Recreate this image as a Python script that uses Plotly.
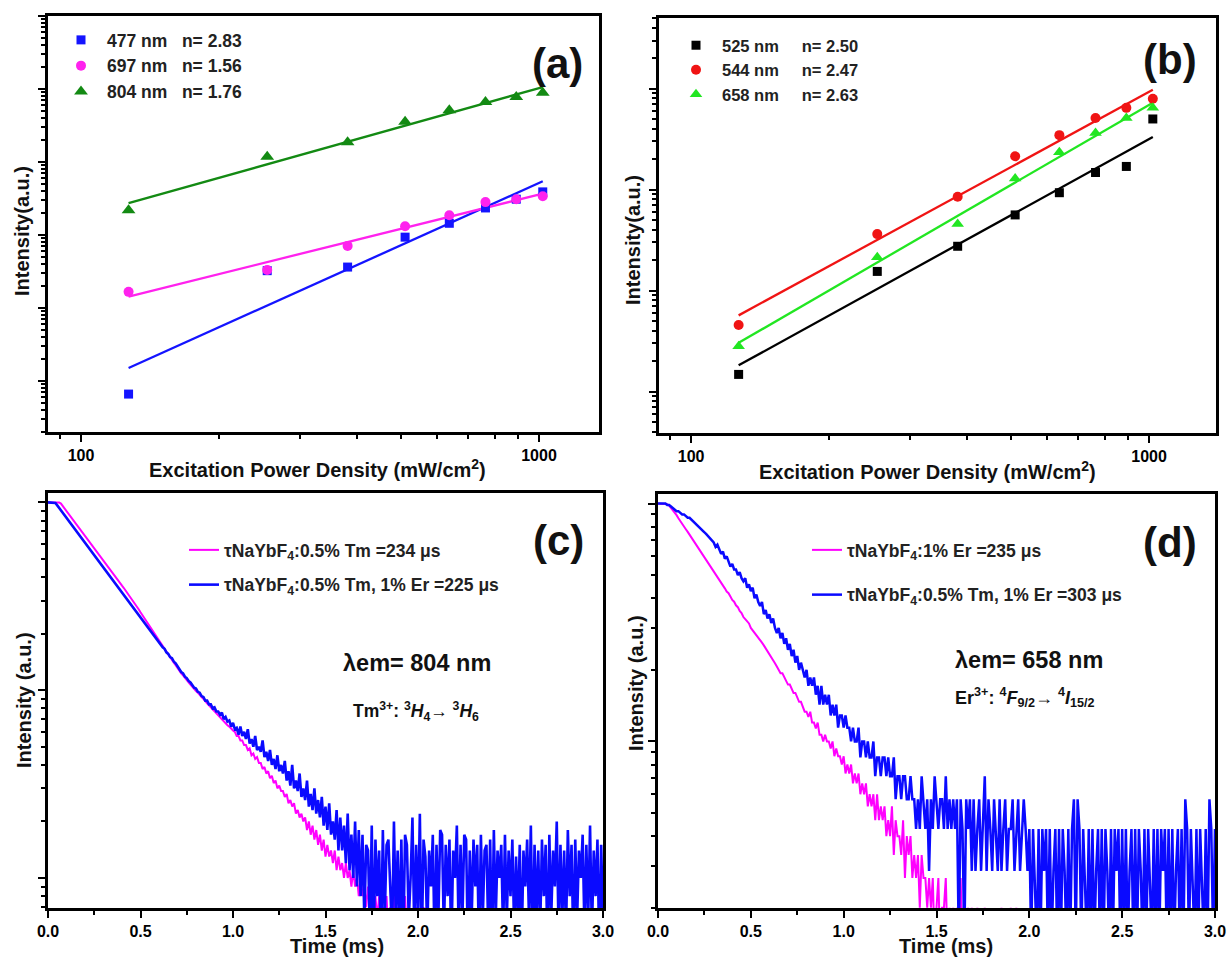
import numpy as np
import plotly.graph_objects as go

W, H = 1229, 958

# ---------------- data: (a) Tm emissions vs power ----------------
power = [127, 255, 382, 510, 637, 764, 892, 1019]  # mW/cm2

a_477 = [6.6, 324, 363, 933, 1445, 2344, 3090, 3890]
a_697 = [166, 331, 708, 1318, 1862, 2818, 3090, 3388]
a_804 = [2188, 11750, 18620, 35480, 51290, 66070, 77620, 89130]
a_slopes = [2.83, 1.56, 1.76]
a_labels = ["477 nm\u00a0\u00a0 n= 2.83", "697 nm\u00a0\u00a0 n= 1.56", "804 nm\u00a0\u00a0 n= 1.76"]

# ---------------- data: (b) Er emissions vs power ----------------
b_525 = [14.8, 155, 275, 562, 933, 1479, 1698, 5012]
b_544 = [45.7, 363, 851, 2138, 3467, 5129, 6457, 7943]
b_658 = [28.2, 214, 457, 1288, 2344, 3631, 5129, 6457]
b_slopes = [2.50, 2.47, 2.63]
b_labels = ["525 nm\u00a0\u00a0\u00a0\u00a0 n= 2.50", "544 nm\u00a0\u00a0\u00a0\u00a0 n= 2.47",
            "658 nm\u00a0\u00a0\u00a0\u00a0 n= 2.63"]

# ---------------- data: decay curves (counts, 0.01 ms channels) ----------------
time_step_ms = 0.01

# (c) 804 nm, peak = 1000 counts
c_peak = 1000
c_tm = [
    1000, 1000, 1000, 1000, 1000, 1000, 999, 985, 955, 927,
    899, 872, 846, 820, 796, 772, 749, 726, 704, 683,
    663, 643, 624, 605, 587, 569, 552, 536, 520, 504,
    489, 474, 460, 446, 433, 420, 407, 395, 383, 372,
    360, 350, 339, 329, 319, 310, 299, 289, 279, 270,
    260, 251, 243, 234, 226, 219, 211, 204, 197, 190,
    184, 177, 171, 165, 160, 154, 149, 145, 140, 136,
    131, 127, 123, 120, 116, 113, 110, 107, 104, 102,
    99, 97, 94, 92, 90, 87, 85, 83, 81, 79,
    77, 75, 73, 72, 70, 68, 67, 65, 64, 62,
    61, 60, 57, 57, 54, 54, 51, 51, 48, 49,
    45, 46, 43, 44, 41, 41, 38, 39, 36, 37,
    34, 35, 32, 33, 30, 31, 29, 29, 27, 28,
    25, 26, 24, 25, 22, 23, 21, 22, 20, 21,
    18, 20, 17, 19, 16, 18, 15, 17, 14, 16,
    13, 15, 13, 14, 12, 14, 11, 13, 11, 12,
    10, 12, 10, 11, 9, 11, 9, 10, 8, 10,
    8, 9, 7, 9, 7, 8, 6, 8, 6, 8,
    5, 7, 6, 8, 5, 7, 5, 8, 6, 7,
    5, 6, 4, 8, 5, 7, 4, 6, 5, 7,
    4, 6, 5, 7, 4, 6, 3, 4, 3, 5,
    3, 4, 2, 5, 3, 4, 3, 2, 4, 3,
    4, 2, 3, 5, 3, 2, 4, 3, 2, 4,
    3, 4, 2, 3, 5, 3, 2, 4, 3, 3,
    2, 4, 3, 2, 4, 3, 5, 2, 3, 4,
    3, 2, 4, 3, 2, 3, 4, 2, 5, 3,
    4, 3, 2, 4, 3, 2, 3, 4, 3, 2,
    3, 5, 2, 3, 4, 2, 3, 3, 4, 2,
    4, 2, 3, 4, 2, 5, 3, 2, 3, 4,
    2, 3, 4, 3, 2, 4, 3, 2, 3, 3,
    4,
]
c_tmer = [
    1000, 1000, 999, 997, 993, 964, 935, 907, 880, 853,
    828, 803, 779, 755, 733, 711, 689, 669, 649, 629,
    610, 592, 574, 557, 540, 524, 508, 493, 478, 464,
    450, 436, 423, 411, 398, 386, 375, 363, 352, 342,
    332, 322, 312, 303, 294, 285, 276, 268, 260, 252,
    245, 238, 229, 224, 216, 211, 203, 199, 191, 187,
    179, 176, 169, 166, 159, 156, 150, 148, 142, 139,
    134, 131, 125, 123, 118, 116, 112, 110, 107, 103,
    102, 98, 97, 93, 92, 88, 88, 84, 84, 80,
    81, 77, 77, 74, 76, 70, 72, 68, 69, 64,
    67, 62, 63, 58, 64, 57, 60, 55, 62, 52,
    55, 50, 57, 48, 50, 47, 54, 44, 47, 42,
    48, 40, 43, 38, 45, 37, 40, 36, 42, 33,
    37, 31, 40, 30, 33, 29, 36, 27, 30, 26,
    33, 24, 28, 23, 30, 22, 26, 21, 27, 19,
    24, 18, 25, 17, 20, 16, 23, 14, 21, 14,
    19, 12, 22, 11, 17, 10, 20, 9, 18, 8,
    17, 6, 15, 14, 5, 19, 4, 16, 8, 14,
    4, 18, 6, 15, 16, 9, 5, 20, 6, 14,
    5, 16, 4, 17, 15, 6, 10, 21, 5, 15,
    6, 22, 4, 16, 13, 5, 14, 9, 17, 4,
    15, 6, 18, 17, 5, 15, 8, 16, 4, 14,
    10, 19, 5, 15, 6, 17, 16, 4, 14, 6,
    16, 9, 15, 4, 17, 6, 14, 15, 5, 16,
    4, 18, 6, 14, 10, 15, 5, 17, 6, 14,
    8, 16, 5, 13, 6, 15, 4, 14, 9, 16,
    6, 19, 4, 15, 6, 14, 5, 16, 8, 15,
    4, 17, 6, 14, 9, 20, 5, 15, 6, 14,
    5, 18, 8, 15, 4, 16, 6, 14, 10, 17,
    5, 15, 6, 19, 5, 14, 8, 16, 4, 15,
    6,
]

# (d) 658 nm
d_er_peak = 150
d_er = [
    150, 150, 150, 150, 150, 149, 147, 144, 141, 137,
    134, 130, 127, 123, 120, 117, 114, 111, 108, 105,
    102, 99, 97, 94, 92, 89, 87, 85, 82, 80,
    78, 76, 74, 72, 70, 68, 66, 64, 63, 61,
    59, 58, 56, 55, 53, 52, 50, 49, 48, 47,
    45, 44, 43, 42, 41, 40, 39, 38, 37, 36,
    35, 34, 33, 32, 31, 30, 29, 29, 28, 27,
    26, 26, 25, 24, 24, 23, 22, 22, 21, 20,
    20, 19, 20, 18, 18, 17, 18, 16, 16, 15,
    16, 15, 15, 14, 15, 13, 14, 13, 13, 12,
    13, 11, 12, 11, 12, 10, 11, 10, 11, 9,
    10, 9, 10, 8, 9, 8, 9, 7, 9, 7,
    8, 7, 8, 6, 7, 6, 8, 5, 7, 6,
    6, 5, 7, 4, 6, 5, 6, 4, 5, 4,
    5, 3, 5, 4, 4, 3, 4, 3, 4, 2,
    3, 4, 2, 3, 3, 4, 2, 3, 2, 3,
    2, 3, 2, 4, 2, 3, 1, 3, 2, 3,
    2, 1, 3, 2, 1, 2, 3, 1, 2, 1,
    2, 1, 1, 2, 1, 3, 1, 2, 1, 1,
    3, 1, 2, 3, 1, 2, 1, 1, 2, 1,
    1, 2, 1, 1, 2, 1, 1, 2, 1, 1,
    2, 1, 1, 2, 1, 2, 1, 1, 2, 1,
    1, 2, 1, 2, 1, 1, 2, 1, 1, 2,
    1, 1, 2, 1, 2, 1, 1, 2, 1, 1,
    2, 1, 1, 1, 2, 1, 2, 1, 1, 2,
    1, 2, 1, 1, 2, 1, 1, 2, 1, 1,
    2, 1, 2, 1, 1, 2, 1, 1, 2, 1,
    1, 1, 2, 1, 2, 1, 1, 2, 1, 2,
    1, 2, 1, 1, 2, 1, 2, 1, 1, 1,
    2, 1, 1, 2, 1, 1, 2, 1, 2, 1,
    1,
]
d_tmer_peak = 70
d_tmer = [
    70, 70, 70, 70, 70, 69, 69, 68, 67, 66,
    65, 65, 64, 63, 63, 62, 61, 61, 60, 59,
    58, 57, 56, 55, 54, 53, 52, 51, 50, 49,
    48, 46, 47, 45, 43, 44, 41, 42, 40, 38,
    39, 37, 37, 35, 36, 34, 33, 34, 31, 32,
    30, 31, 28, 29, 27, 26, 27, 24, 25, 23,
    24, 22, 23, 21, 20, 21, 19, 20, 18, 19,
    17, 18, 16, 17, 15, 16, 14, 15, 14, 13,
    14, 12, 13, 12, 13, 11, 12, 10, 12, 10,
    11, 10, 11, 9, 10, 9, 10, 8, 9, 9,
    8, 9, 8, 8, 7, 8, 7, 7, 8, 6,
    7, 7, 6, 7, 6, 6, 7, 5, 6, 6,
    5, 6, 6, 5, 6, 5, 5, 6, 4, 5,
    5, 4, 5, 5, 4, 4, 5, 4, 4, 3,
    4, 3, 5, 4, 3, 4, 2, 4, 3, 5,
    4, 3, 4, 4, 3, 5, 3, 4, 3, 4,
    3, 4, 1, 4, 3, 1, 4, 3, 4, 2,
    4, 2, 3, 4, 2, 3, 5, 2, 4, 3,
    2, 4, 3, 2, 4, 2, 3, 4, 2, 3,
    3, 4, 2, 3, 4, 2, 3, 4, 3, 2,
    3, 1, 3, 2, 1, 3, 1, 3, 2, 3,
    1, 3, 1, 2, 3, 1, 3, 1, 3, 2,
    1, 3, 1, 3, 4, 1, 4, 3, 1, 3,
    2, 1, 3, 1, 3, 1, 2, 3, 1, 3,
    1, 3, 2, 1, 3, 1, 3, 2, 3, 1,
    3, 1, 3, 1, 2, 3, 1, 3, 1, 3,
    2, 1, 3, 1, 3, 2, 1, 3, 1, 3,
    1, 3, 2, 3, 1, 3, 1, 3, 1, 2,
    3, 1, 3, 1, 4, 3, 1, 3, 2, 1,
    3, 1, 3, 2, 1, 3, 1, 4, 3, 1,
    3,
]

c_names = ["τNaYbF<sub>4</sub>:0.5% Tm =234 μs", "τNaYbF<sub>4</sub>:0.5% Tm, 1% Er =225 μs"]
d_names = ["τNaYbF<sub>4</sub>:1% Er =235 μs", "τNaYbF<sub>4</sub>:0.5% Tm, 1% Er =303 μs"]

# ---------------- helpers (layout only) ----------------
FONT = "Liberation Sans, Arial, Helvetica, sans-serif"


def px_x(x):
    return x / W


def px_y(y):
    return 1 - y / H


def fit_line(x, y, n):
    lx = np.log10(np.array(x, float))
    ly = np.log10(np.array(y, float))
    b = ly.mean() - n * lx.mean()
    xs = np.array([x[0], x[-1]], float)
    return xs, 10 ** (b + n * np.log10(xs))


fig = go.Figure()

# ---------- panel (a) ----------
a_series = [a_477, a_697, a_804]
a_colors = ["#1414ff", "#ff22ee", "#138a13"]
a_symbols = ["square", "circle", "triangle-up"]
a_sizes = [9, 10, 12]
for ys, n, col in zip(a_series, a_slopes, a_colors):
    fx, fy = fit_line(power, ys, n)
    fig.add_trace(go.Scatter(x=fx, y=fy, mode="lines", line=dict(color=col, width=2.3),
                             showlegend=False, xaxis="x", yaxis="y"))
for ys, col, sym, sz, lab in zip(a_series, a_colors, a_symbols, a_sizes, a_labels):
    fig.add_trace(go.Scatter(x=power, y=ys, mode="markers", name=lab,
                             marker=dict(color=col, symbol=sym, size=sz),
                             legend="legend", xaxis="x", yaxis="y"))

# ---------- panel (b) ----------
b_series = [b_525, b_544, b_658]
b_colors = ["#000000", "#f01414", "#22e622"]
b_symbols = ["square", "circle", "triangle-up"]
b_sizes = [9, 10, 11]
for ys, n, col in zip(b_series, b_slopes, b_colors):
    fx, fy = fit_line(power, ys, n)
    fig.add_trace(go.Scatter(x=fx, y=fy, mode="lines", line=dict(color=col, width=2.3),
                             showlegend=False, xaxis="x2", yaxis="y2"))
for ys, col, sym, sz, lab in zip(b_series, b_colors, b_symbols, b_sizes, b_labels):
    fig.add_trace(go.Scatter(x=power, y=ys, mode="markers", name=lab,
                             marker=dict(color=col, symbol=sym, size=sz),
                             legend="legend2", xaxis="x2", yaxis="y2"))

# ---------- panel (c) ----------
t_c = np.round(np.arange(len(c_tm)) * time_step_ms, 2)
fig.add_trace(go.Scatter(x=t_c, y=np.array(c_tm) / c_peak, mode="lines", name=c_names[0],
                         line=dict(color="#ff00ff", width=2.0), legend="legend3",
                         legendgroup="c1", xaxis="x3", yaxis="y3"))
fig.add_trace(go.Scatter(x=t_c, y=np.array(c_tmer) / c_peak, mode="lines", name=c_names[1],
                         line=dict(color="#0a0aff", width=2.6), legend="legend3",
                         legendgroup="c2", xaxis="x3", yaxis="y3"))

# ---------- panel (d) ----------
t_d = np.round(np.arange(len(d_er)) * time_step_ms, 2)
fig.add_trace(go.Scatter(x=t_d, y=np.array(d_er) / d_er_peak, mode="lines", name=d_names[0],
                         line=dict(color="#ff00ff", width=2.0), legend="legend4",
                         legendgroup="d1", xaxis="x4", yaxis="y4"))
fig.add_trace(go.Scatter(x=t_d, y=np.array(d_tmer) / d_tmer_peak, mode="lines", name=d_names[1],
                         line=dict(color="#0a0aff", width=2.5), legend="legend4",
                         legendgroup="d2", xaxis="x4", yaxis="y4"))

# ---------- axes ----------
tickfont = dict(family=FONT, size=16, color="black", weight="bold")
base = dict(showline=True, linecolor="black", linewidth=2.5, mirror=True,
            ticks="outside", tickwidth=2, ticklen=7, tickcolor="black",
            showgrid=False, zeroline=False, tickfont=tickfont, automargin=False)


def log_minor(decades):
    return [m * 10.0 ** k for k in decades for m in range(2, 10)]


minor_style = dict(ticks="outside", ticklen=4, tickwidth=1.5, tickcolor="black")
pow_minor = dict(minor_style, tickmode="array", tickvals=[90] + [m * 100 for m in range(2, 10)])
time_minor = dict(minor_style, tickmode="array", tickvals=[0.25, 0.75, 1.25, 1.75, 2.25, 2.75])
time_ticks = [0, 0.5, 1.0, 1.5, 2.0, 2.5, 3.0]
time_text = ["0.0", "0.5", "1.0", "1.5", "2.0", "2.5", "3.0"]

fig.update_layout(
    xaxis=dict(base, type="log", domain=[px_x(48), px_x(599)],
               range=[np.log10(84.7), np.log10(1352)],
               tickmode="array", tickvals=[100, 1000], ticktext=["100", "1000"],
               minor=pow_minor, anchor="y"),
    yaxis=dict(base, type="log", domain=[px_y(432), px_y(16)], range=[0.30, 6.0],
               tickmode="array", tickvals=[10.0 ** k for k in range(0, 7)],
               showticklabels=False, anchor="x",
               minor=dict(minor_style, tickmode="array", tickvals=log_minor(range(0, 6)))),
    xaxis2=dict(base, type="log", domain=[px_x(659), px_x(1216)],
                range=[np.log10(85.1), np.log10(1400)],
                tickmode="array", tickvals=[100, 1000], ticktext=["100", "1000"],
                minor=pow_minor, anchor="y2"),
    yaxis2=dict(base, type="log", domain=[px_y(433), px_y(18)], range=[0.59, 4.70],
                tickmode="array", tickvals=[10.0 ** k for k in range(0, 6)],
                showticklabels=False, anchor="x2",
                minor=dict(minor_style, tickmode="array", tickvals=log_minor(range(0, 5)))),
    xaxis3=dict(base, domain=[px_x(48), px_x(603)], range=[0, 3.0],
                tickmode="array", tickvals=time_ticks, ticktext=time_text,
                minor=time_minor, anchor="y3"),
    yaxis3=dict(base, type="log", domain=[px_y(908), px_y(493)], range=[-2.16, 0.05],
                tickmode="array", tickvals=[0.001, 0.01, 0.1, 1], showticklabels=False,
                minor=dict(minor_style, tickmode="array", tickvals=log_minor([-3, -2, -1])),
                anchor="x3"),
    xaxis4=dict(base, domain=[px_x(658), px_x(1215)], range=[0, 3.0],
                tickmode="array", tickvals=time_ticks, ticktext=time_text,
                minor=time_minor, anchor="y4"),
    yaxis4=dict(base, type="log", domain=[px_y(908), px_y(494)], range=[-1.70, 0.04],
                tickmode="array", tickvals=[0.01, 0.1, 1], showticklabels=False,
                minor=dict(minor_style, tickmode="array", tickvals=log_minor([-2, -1])),
                anchor="x4"),
)

# ---------- legends ----------
fig.update_layout(
    legend=dict(x=px_x(55), y=px_y(22), xanchor="left", yanchor="top",
                font=dict(family=FONT, size=17.5, color="#222222", weight="bold"),
                bgcolor="rgba(0,0,0,0)", itemwidth=42, borderwidth=0),
    legend2=dict(x=px_x(670), y=px_y(28), xanchor="left", yanchor="top",
                 font=dict(family=FONT, size=16.5, color="#222222", weight="bold"),
                 bgcolor="rgba(0,0,0,0)", itemwidth=42, borderwidth=0),
    legend3=dict(x=px_x(184), y=px_y(532), xanchor="left", yanchor="top",
                 font=dict(family=FONT, size=17.5, color="#222222", weight="bold"),
                 bgcolor="rgba(0,0,0,0)", traceorder="grouped", tracegroupgap=9,
                 borderwidth=0),
    legend4=dict(x=px_x(807), y=px_y(532), xanchor="left", yanchor="top",
                 font=dict(family=FONT, size=17.5, color="#222222", weight="bold"),
                 bgcolor="rgba(0,0,0,0)", traceorder="grouped", tracegroupgap=19,
                 borderwidth=0),
)

# ---------- text annotations ----------
ann = []


def add_text(text, x, y, size, angle=0, color="#111111"):
    ann.append(dict(text=text, x=px_x(x), y=px_y(y), xref="paper", yref="paper",
                    showarrow=False, textangle=angle, xanchor="center", yanchor="middle",
                    font=dict(family=FONT, size=size, color=color)))


add_text("<b>(a)</b>", 557, 63, 42)
add_text("<b>(b)</b>", 1170, 60, 42)
add_text("<b>(c)</b>", 558, 540, 42)
add_text("<b>(d)</b>", 1170, 542, 42)

add_text("<b>Intensity(a.u.)</b>", 22, 231, 20, -90)
add_text("<b>Intensity(a.u.)</b>", 633, 240, 20, -90)
add_text("<b>Intensity (a.u.)</b>", 24, 700, 20, -90)
add_text("<b>Intensity (a.u.)</b>", 636, 683, 20, -90)

add_text("<b>Excitation Power Density (mW/cm<sup>2</sup>)</b>", 317, 468, 20)
add_text("<b>Excitation Power Density (mW/cm<sup>2</sup>)</b>", 927, 470, 20)
add_text("<b>Time (ms)</b>", 337, 946, 20)
add_text("<b>Time (ms)</b>", 946, 946, 20)

add_text("<b>λem= 804 nm</b>", 417, 663, 23.5)
add_text("<b>Tm<sup>3+</sup>: <sup>3</sup><i>H</i><sub>4</sub>→ <sup>3</sup><i>H</i><sub>6</sub></b>",
         416, 711, 17.5)
add_text("<b>λem= 658 nm</b>", 1029, 660, 23.5)
add_text("<b>Er<sup>3+</sup>: <sup>4</sup><i>F</i><sub>9/2</sub>→ <sup>4</sup><i>I</i><sub>15/2</sub></b>",
         1024, 697, 18)

fig.update_layout(
    annotations=ann,
    width=W, height=H,
    margin=dict(l=0, r=0, t=0, b=0),
    paper_bgcolor="white", plot_bgcolor="white",
    font=dict(family=FONT, color="black"),
)

fig.write_html("out.html", config={"displayModeBar": False},
               post_script="document.body.style.margin='0px';")
